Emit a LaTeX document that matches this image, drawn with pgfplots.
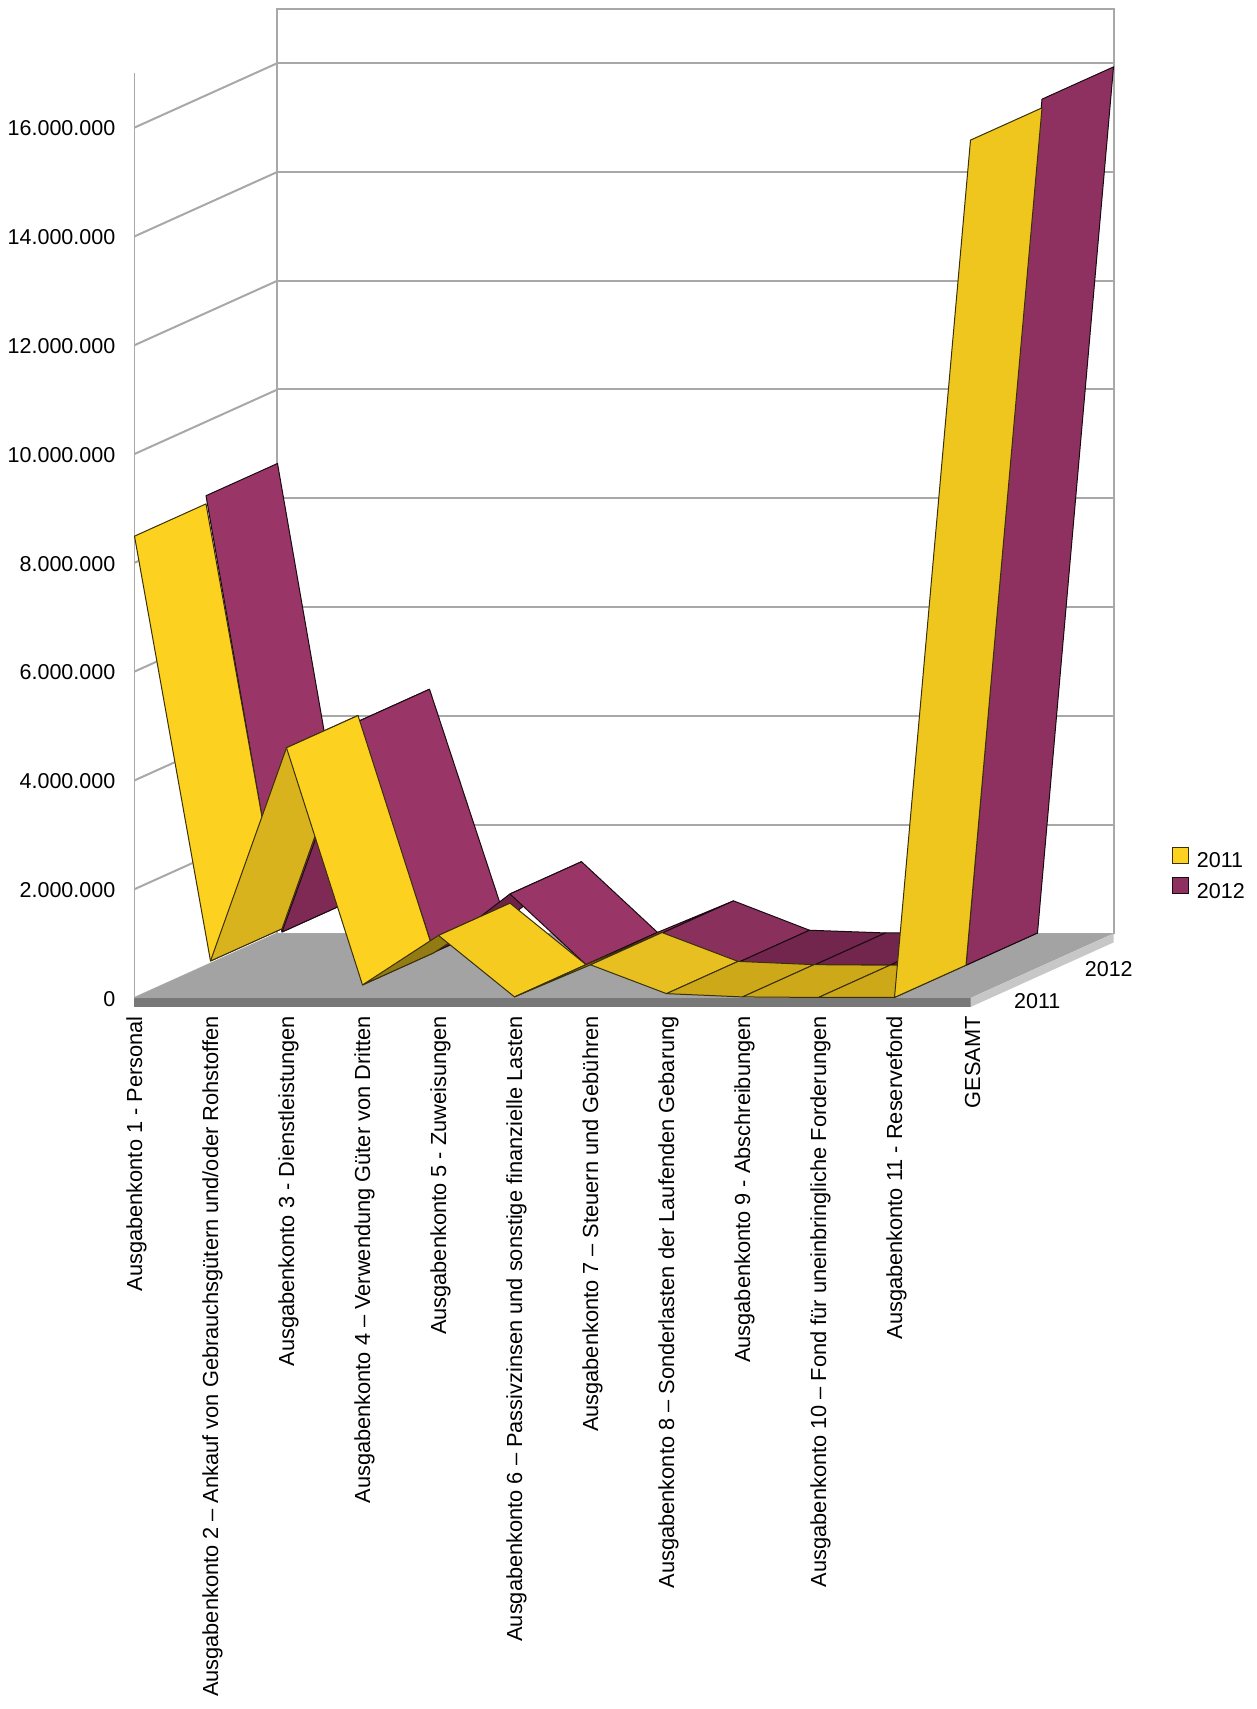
\documentclass[border=0pt]{standalone}
\usepackage{fontspec}
\setmainfont{Liberation Sans}
\usepackage{pgfplots}
\pgfplotsset{compat=1.18}
\definecolor{ybright}{HTML}{FDD11F}
\definecolor{yrise}{HTML}{D9B31D}
\definecolor{yolive}{HTML}{937B13}
\definecolor{yfour}{HTML}{F5CB20}
\definecolor{ysix}{HTML}{E8BF20}
\definecolor{ylow}{HTML}{CDA91A}
\definecolor{ytot}{HTML}{EFC61E}
\definecolor{pbright}{HTML}{9A3567}
\definecolor{prise}{HTML}{7F2A55}
\definecolor{pdark}{HTML}{6E2248}
\definecolor{psix}{HTML}{8A305C}
\definecolor{plow}{HTML}{73264D}
\definecolor{ptot}{HTML}{8F3160}
\definecolor{wallc}{HTML}{A8A8A8}
\definecolor{yedge}{HTML}{3A3008}
\definecolor{pedge}{HTML}{1A0A12}
% #1 x left, #2 x right, #3 value left, #4 value right, #5 depth front, #6 depth back, #7 fill, #8 edge
\newcommand\face[8]{\addplot3[fill=#7,draw=#8,line width=1pt,line join=round,no marks,forget plot]
  coordinates {(#1,#5,#3) (#2,#5,#4) (#2,#6,#4) (#1,#6,#3)} -- cycle;}
\newcommand\yface[5]{\face{#1}{#2}{#3}{#4}{0}{0.5}{#5}{yedge}}
\newcommand\pface[5]{\face{#1}{#2}{#3}{#4}{0.5}{1}{#5}{pedge}}
\begin{document}
\begin{tikzpicture}[x=1pt,y=1pt]
\path[use as bounding box] (0,0) rectangle (1257,1709);
\begin{axis}[
  at={(134.5pt,711pt)},anchor=origin,
  x={(76pt,0pt)},y={(143pt,64.5pt)},z={(0pt,54.4pt)},
  xmin=0,xmax=11,ymin=0,ymax=1,zmin=0,zmax=17,
  clip=false,
  axis line style={draw=none},
  tick style={draw=none},
  major tick length=0pt,
  xtick={0,...,11},
  xticklabels={Ausgabenkonto 1 - Personal,
    Ausgabenkonto 2 – Ankauf von Gebrauchsgütern und/oder Rohstoffen,
    Ausgabenkonto 3 - Dienstleistungen,
    Ausgabenkonto 4 – Verwendung Güter von Dritten,
    Ausgabenkonto 5 - Zuweisungen,
    Ausgabenkonto 6 – Passivzinsen und sonstige finanzielle Lasten,
    Ausgabenkonto 7 – Steuern und Gebühren,
    Ausgabenkonto 8 – Sonderlasten der Laufenden Gebarung,
    Ausgabenkonto 9 - Abschreibungen,
    Ausgabenkonto 10 – Fond für uneinbringliche Forderungen,
    Ausgabenkonto 11 - Reservefond,
    GESAMT},
  xticklabel style={rotate=90,anchor=east,inner sep=0pt,xshift=-18pt,yshift=-2pt,font=\fontsize{21.8}{26}\selectfont},
  ytick={0.25,0.75},
  yticklabels={2011,2012},
  yticklabel style={anchor=center,inner sep=0pt,xshift=31pt,yshift=-19.5pt,font=\fontsize{21.5}{25}\selectfont},
  ztick={0,2,...,16},
  zticklabels={0,2.000.000,4.000.000,6.000.000,8.000.000,10.000.000,12.000.000,14.000.000,16.000.000},
  zticklabel style={anchor=east,inner sep=0pt,xshift=-19pt,yshift=-1pt,font=\fontsize{21.5}{25}\selectfont},
  zmajorgrids=true,
  grid style={draw=wallc,line width=2pt},
  major grid style={draw=wallc,line width=2pt},
  legend style={draw=none,fill=none,font=\fontsize{21.5}{25}\selectfont,
    at={(axis description cs:0.94,0.4)},anchor=west,xshift=117pt,yshift=-272pt,
    row sep=6pt,inner sep=0pt,/tikz/column 1/.style={column sep=6pt}},
  legend cell align=left,
  legend image code/.code={\draw[#1] (0pt,-2pt) rectangle (16pt,14pt);},
]
\addlegendimage{fill=ybright,draw=yedge,line width=1pt}
\addlegendimage{fill=ptot,draw=pedge,line width=1pt}
\addlegendentry{2011}
\addlegendentry{2012}
% walls
\addplot3[draw=wallc,line width=1pt,no marks,forget plot] coordinates {(0,0,0) (0,0,17)};
\addplot3[draw=wallc,line width=2pt,no marks,forget plot] coordinates {(0,1,0) (0,1,17) (11,1,17) (11,1,0)};
% floor
\addplot3[fill=black!36,draw=none,no marks,forget plot] coordinates {(0,0,0) (11,0,0) (11,1,0) (0,1,0)} -- cycle;
\addplot3[fill=black!53,draw=none,no marks,forget plot] coordinates {(0,0,0) (11,0,0) (11,0,-0.165) (0,0,-0.165)} -- cycle;
\addplot3[fill=black!22,draw=none,no marks,forget plot] coordinates {(11,0,0) (11,1,0) (11,1,-0.165) (11,0,-0.165)} -- cycle;
% 2012 (values in millions)
\pface{0}{1}{8.64}{0.62}{pbright}
\pface{1}{2}{0.62}{4.49}{prise}
\pface{2}{3}{4.49}{0.25}{pbright}
\pface{3}{4}{0.25}{1.32}{pdark}
\pface{4}{5}{1.32}{0.02}{pbright}
\pface{5}{6}{0.02}{0.60}{psix}
\pface{6}{7}{0.60}{0.06}{psix}
\pface{7}{8}{0.06}{0.01}{plow}
\pface{8}{9}{0.01}{0.01}{plow}
\pface{9}{10}{0.01}{0.01}{plow}
\pface{10}{11}{0.01}{15.93}{ptot}
% 2011 (values in millions)
\yface{0}{1}{8.49}{0.68}{ybright}
\yface{1}{2}{0.68}{4.60}{yrise}
\yface{2}{3}{4.60}{0.24}{ybright}
\yface{3}{4}{0.24}{1.15}{yolive}
\yface{4}{5}{1.15}{0.02}{yfour}
\yface{5}{6}{0.02}{0.61}{yolive}
\yface{6}{7}{0.61}{0.08}{ysix}
\yface{7}{8}{0.08}{0.02}{ylow}
\yface{8}{9}{0.02}{0.01}{ylow}
\yface{9}{10}{0.01}{0.01}{ylow}
\yface{10}{11}{0.01}{15.77}{ytot}
\end{axis}
\end{tikzpicture}
\end{document}
